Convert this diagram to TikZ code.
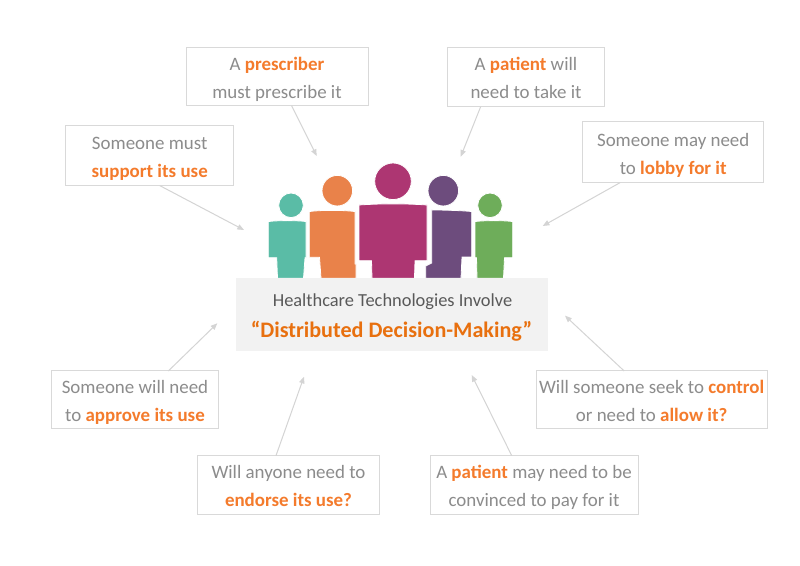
\documentclass[tikz,border=0pt]{standalone}
\usepackage{fontspec}
\setmainfont{Carlito}
\usetikzlibrary{arrows.meta,calc}
\definecolor{txtgrey}{HTML}{8C8C8C}
\definecolor{hi}{HTML}{F47B2C}
\definecolor{hidark}{HTML}{E8700F}
\definecolor{boxline}{HTML}{D9D9D9}
\definecolor{arrowline}{HTML}{D4D4D4}
\definecolor{panel}{HTML}{F2F2F2}
\definecolor{headtxt}{HTML}{595959}
\definecolor{pteal}{HTML}{5ABCA6}
\definecolor{porange}{HTML}{E9824A}
\definecolor{pmagenta}{HTML}{AD3672}
\definecolor{ppurple}{HTML}{6D4C7D}
\definecolor{pgreen}{HTML}{6EAD5A}
\newcommand{\hl}[1]{{\bfseries\color{hi}#1}}
\newcommand{\topstrut}{\rule{0pt}{15.4pt}}
\newcommand{\botstrut}{\rule[-3.5pt]{0pt}{3.5pt}}
\newcommand{\callout}[7]{%
  \node[calloutbox,minimum width={(#4-#2)*0.75pt},minimum height={(#5-#3)*0.75pt}]
    (#1) at ({(#2+#4)/2},{(#3+#5)/2}) {\topstrut #6\\#7\botstrut};}
\tikzset{
  calloutbox/.style={draw=boxline,line width=0.75pt,fill=white,align=center,inner sep=0pt,outer sep=0pt,
    text=txtgrey,font=\fontsize{14.2}{21}\selectfont},
  pointer/.style={draw=arrowline,line width=0.75pt,-{Triangle[length=5pt,width=4pt]}},
  person/.style={line width=0.6pt,draw=white},
}
\begin{document}
\begin{tikzpicture}[x=0.75pt,y=-0.75pt]
\useasboundingbox (0,0) rectangle (800,566);
\fill[white] (0,0) rectangle (800,566);
% people
\fill[pteal,person] (291,205.3) circle (12.3*0.75pt);
\fill[pteal,person] (268.3,221.5) .. controls (280,220.3) and (295,220.3) .. (306,221.5) -- (306,257.7) -- (305,257.7) -- (303.5,278.3) -- (277.5,278.3) -- (276.7,257.7) -- (268.3,257.7) -- cycle;
\fill[porange,person] (337.3,190.7) circle (15.3*0.75pt);
\fill[porange,person] (309.3,211.5) .. controls (322,210) and (342,210) .. (355,211.5) -- (355,264) -- (356,264) -- (356,278.3) -- (321,278.3) -- (319.5,257.3) -- (309.3,257.3) -- cycle;
\fill[pmagenta,person] (393,181.3) circle (18.3*0.75pt);
\fill[pmagenta,person] (359,205) .. controls (380,203.5) and (406,203.5) .. (427,205) -- (427,260.7) -- (415,260.7) -- (414.5,278.3) -- (372,278.3) -- (371.5,260.7) -- (359,260.7) -- cycle;
\fill[ppurple,person] (443.3,190.7) circle (15.3*0.75pt);
\fill[ppurple,person] (431.7,210) .. controls (445,210) and (460,210.5) .. (471.7,211.5) -- (471.7,257) -- (462,257) -- (461,278.3) -- (425.7,278.3) -- (425.7,266) -- (431.7,263) -- cycle;
\fill[pgreen,person] (490,205.3) circle (12.3*0.75pt);
\fill[pgreen,person] (475,221.5) .. controls (487,220.3) and (501,220.3) .. (512.7,221.5) -- (512.7,257.7) -- (504.5,257.7) -- (503.5,278.3) -- (477,278.3) -- (476.5,257.7) -- (475,257.7) -- cycle;
% centre panel
\fill[panel] (235.7,278.3) rectangle (548.3,351);
\node[font=\fontsize{13.8}{16}\selectfont,text=headtxt,inner sep=0pt] (title1) at (392.5,302) {Healthcare Technologies Involve};
\node[font=\fontsize{16.6}{18}\selectfont\bfseries,text=hidark,inner sep=0pt] (title2) at (391.5,331) {“Distributed Decision-Making”};
% call-outs
\callout{prescriber}{186}{47.3}{368}{105.7}{A \hl{prescriber}}{must prescribe it}
\callout{support}{65.7}{125.7}{233.7}{185.7}{Someone must}{\hl{support its use}}
\callout{patient}{447.3}{47.3}{604.7}{106.7}{A \hl{patient} will}{need to take it}
\callout{lobby}{582.7}{121.7}{763.7}{182.7}{Someone may need}{to \hl{lobby for it}}
\callout{approve}{51.7}{371}{218.3}{428.3}{Someone will need}{to \hl{approve its use}}
\callout{endorse}{197.7}{455.7}{379.3}{514.3}{Will anyone need to}{\hl{endorse its use?}}
\callout{pay}{430}{455.7}{638}{514.3}{A \hl{patient} may need to be}{convinced to pay for it}
\callout{control}{536.3}{371}{767}{428.3}{Will someone seek to \hl{control}}{or need to \hl{allow it?}}
% pointer ends
\coordinate (tprescriber) at (316.7,156);
\coordinate (tsupport) at (244,230);
\coordinate (tpatient) at (460.7,156.7);
\coordinate (tlobby) at (542.7,226);
\coordinate (tapprove) at (217.3,323.3);
\coordinate (tendorse) at (304,376.7);
\coordinate (tpay) at (471.7,375);
\coordinate (tcontrol) at (565,315.7);
\draw[pointer] ($(prescriber.south west)!0.58!(prescriber.south east)$) -- (tprescriber);
\draw[pointer] ($(support.south west)!0.561!(support.south east)$) -- (tsupport);
\draw[pointer] ($(patient.south west)!0.212!(patient.south east)$) -- (tpatient);
\draw[pointer] ($(lobby.south west)!0.206!(lobby.south east)$) -- (tlobby);
\draw[pointer] ($(approve.north west)!0.70!(approve.north east)$) -- (tapprove);
\draw[pointer] ($(endorse.north west)!0.431!(endorse.north east)$) -- (tendorse);
\draw[pointer] ($(pay.north west)!0.393!(pay.north east)$) -- (tpay);
\draw[pointer] ($(control.north west)!0.381!(control.north east)$) -- (tcontrol);
\end{tikzpicture}
\end{document}
